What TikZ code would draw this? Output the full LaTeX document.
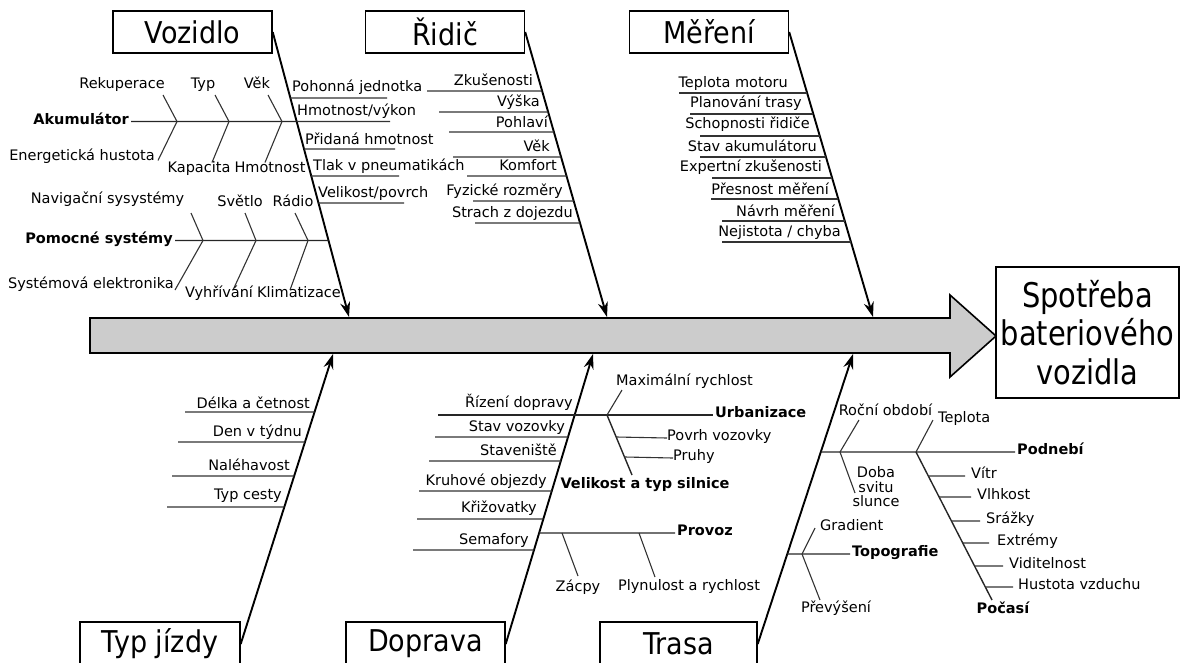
\documentclass[tikz,border=0pt]{standalone}
\usepackage{fontspec}
\setmainfont{DejaVu Sans}
\newfontfamily\boxfont[FakeStretch=0.9]{DejaVu Sans}
\newfontfamily\resfont[FakeStretch=0.85]{DejaVu Sans}
\usetikzlibrary{arrows.meta}
\newcommand\lblfont{\fontsize{14.5}{16.5}\selectfont}

\begin{document}
\begin{tikzpicture}[x=1pt,y=-1pt,
  lbl/.style={inner sep=0pt, font=\lblfont},
  hd/.style={inner ysep=0pt, inner xsep=2pt, font=\lblfont\bfseries},
  cat/.style={draw, line width=1.4pt, minimum width=159pt, minimum height=42pt,
              inner sep=0pt, font=\boxfont\fontsize{30}{30}\selectfont},
  bone/.style={line width=1.9pt, -{Stealth[length=15pt,width=10pt]}},
  spine/.style={line width=1.4pt, draw=black!85},
  rib/.style={line width=1.1pt, draw=black!80}]
\clip (0,0) rectangle (1180,662);

% main arrow and effect box
\draw[line width=1.6pt, fill=black!20]
  (90,318) -- (950,318) -- (950,295) -- (996,336) -- (950,377) -- (950,353) -- (90,353) -- cycle;
\node[draw, line width=1.4pt, minimum width=183pt, minimum height=131pt, inner sep=0pt,
      align=center, font=\resfont\fontsize{34}{38.5}\selectfont] (res) at (1087.5,332.5)
  {Spotřeba\\bateriového\\vozidla};

% category boxes
\node[cat] (voz) at (192.5,32) {Vozidlo};
\node[cat] (rid) at (445,32) {Řidič};
\node[cat] (mer) at (709,32) {Měření};
\node[cat, minimum width=160pt, minimum height=44pt] (typ) at (160,644) {Typ jízdy};
\node[cat, minimum width=159pt, minimum height=44pt] (dop) at (425.5,644) {Doprava};
\node[cat, minimum width=157pt, minimum height=44pt] (tra) at (678.5,644) {Trasa};

% bone tips on the main arrow
\coordinate (vtip) at (349,317);
\coordinate (rtip) at (607,317);
\coordinate (mtip) at (873,317);
\coordinate (ttip) at (333,354);
\coordinate (dtip) at (593,354);
\coordinate (stip) at (853,354);

\draw[bone] (voz.east) -- (vtip);
\draw[bone] (rid.east) -- (rtip);
\draw[bone] (mer.east) -- (mtip);
\draw[bone] (typ.east) -- (ttip);
\draw[bone] (dop.east) -- (dtip);
\draw[bone] (tra.east) -- (stip);

% ---------------- Vozidlo ----------------
\node[hd, anchor=mid east] (akum) at (131,121.5) {Akumulátor};
\draw[spine] (akum.mid east) -- (intersection of voz.east--vtip and 0,121.5--1,121.5);
\coordinate (aj1) at (177,121.5);
\coordinate (aj2) at (229,121.5);
\coordinate (aj3) at (282,121.5);
\draw[rib] (aj1) -- ++(-14,-26.5);
\draw[rib] (aj2) -- ++(-14,-26.5);
\draw[rib] (aj3) -- ++(-14,-26.5);
\draw[rib] (aj1) -- ++(-19,39);
\draw[rib] (aj2) -- ++(-17,41);
\draw[rib] (aj3) -- ++(-17,41);
\node[lbl, anchor=mid] (rek) at (122,86) {Rekuperace};
\node[lbl, anchor=mid] (typa) at (203,86) {Typ};
\node[lbl, anchor=mid] (veka) at (257,86) {Věk};
\node[lbl, anchor=mid east] (enh) at (155,158) {Energetická hustota};
\node[lbl, anchor=mid] (kap) at (199,170) {Kapacita};
\node[lbl, anchor=mid] (hmo) at (270,170) {Hmotnost};

\node[hd, anchor=mid east] (pom) at (175,240.5) {Pomocné systémy};
\draw[spine] (pom.mid east) -- (intersection of voz.east--vtip and 0,240.5--1,240.5);
\draw[rib] (203,240.5) -- (191,213);
\draw[rib] (256,240.5) -- (245,213);
\draw[rib] (308,240.5) -- (295,213);
\draw[rib] (203,240.5) -- (175,290);
\draw[rib] (256,240.5) -- (233,290);
\draw[rib] (308,240.5) -- (290,290);
\node[lbl, anchor=mid] (nav) at (107.5,201) {Navigační sysystémy};
\node[lbl, anchor=mid] (svt) at (240,204) {Světlo};
\node[lbl, anchor=mid] (rad) at (293,204) {Rádio};
\node[lbl, anchor=mid east] (sel) at (174,286) {Systémová elektronika};
\node[lbl, anchor=mid] (vyh) at (219,295) {Vyhřívání};
\node[lbl, anchor=mid] (kli) at (299,295) {Klimatizace};

\foreach \uy/\ex/\tx/\ty/\txt [count=\i] in
  {98/387/292/89/{Pohonná jednotka},
   121.5/390/297/113/{Hmotnost/výkon},
   149/395/305/142/{Přidaná hmotnost},
   176/399/313/168/{Tlak v pneumatikách},
   203/404/318/195/{Velikost/povrch}} {
  \node[lbl, anchor=mid west] (vr\i) at (\tx,\ty) {\txt};
  \draw[rib] (intersection of voz.east--vtip and 0,\uy--1,\uy) -- (\ex,\uy);
}

% ---------------- Řidič ----------------
\foreach \uy/\sx/\tx/\ty/\txt [count=\i] in
  {91/427/533/83/{Zkušenosti},
   112/439/540/104/{Výška},
   132/449/548/125/{Pohlaví},
   157/453/550/149/{Věk},
   176/467/557/168/{Komfort},
   201/473/563/193/{Fyzické rozměry},
   223/475/573/215/{Strach z dojezdu}} {
  \node[lbl, anchor=mid east] (rl\i) at (\tx,\ty) {\txt};
  \draw[rib] (\sx,\uy) -- (intersection of rid.east--rtip and 0,\uy--1,\uy);
}

% ---------------- Měření ----------------
\foreach \uy/\sx/\tx/\ty/\txt [count=\i] in
  {93/679/788/85/{Teplota motoru},
   114/690/802/105/{Planování trasy},
   136/700/810/126/{Schopnosti řidiče},
   157/700/817/149/{Stav akumulátoru},
   178/712/822/169/{Expertní zkušenosti},
   199/711/829/192/{Přesnost měření},
   221/722/835/214/{Návrh měření},
   242/722/841/234/{Nejistota / chyba}} {
  \node[lbl, anchor=mid east] (ml\i) at (\tx,\ty) {\txt};
  \draw[rib] (\sx,\uy) -- (intersection of mer.east--mtip and 0,\uy--1,\uy);
}

% ---------------- Typ jízdy ----------------
\foreach \uy/\sx/\tx/\ty/\txt [count=\i] in
  {412/185/310/406/{Délka a četnost},
   442/178/302/434/{Den v týdnu},
   476/172/290/468/{Naléhavost},
   507/167/282/497/{Typ cesty}} {
  \node[lbl, anchor=mid east] (tl\i) at (\tx,\ty) {\txt};
  \draw[rib] (\sx,\uy) -- (intersection of typ.east--ttip and 0,\uy--1,\uy);
}

% ---------------- Doprava ----------------
\foreach \uy/\sx/\tx/\ty/\txt [count=\i] in
  {437/435/565/429/{Stav vozovky},
   461/429/557/453/{Staveniště},
   491/419/547/483/{Kruhové objezdy},
   519/417/537/510/{Křižovatky},
   550/413/529/542/{Semafory}} {
  \node[lbl, anchor=mid east] (dl\i) at (\tx,\ty) {\txt};
  \draw[rib] (\sx,\uy) -- (intersection of dop.east--dtip and 0,\uy--1,\uy);
}
\node[lbl, anchor=mid east] (rizd) at (573,405) {Řízení dopravy};
\node[hd, anchor=mid west] (urb) at (713,415) {Urbanizace};
\draw[spine] (438,415) -- (urb.mid west);
\coordinate (uj) at (607,415);
\draw[rib] (uj) -- (622,390);
\node[lbl, anchor=mid] (maxr) at (684.5,383) {Maximální rychlost};
\node[hd, anchor=mid] (vel) at (645,486) {Velikost a typ silnice};
\coordinate (velend) at (632,475);
\draw[spine] (uj) -- (velend);
\node[lbl, anchor=mid west] (povr) at (667,438) {Povrh vozovky};
\node[lbl, anchor=mid west] (pruh) at (673,458) {Pruhy};
\draw[rib] (intersection of uj--velend and 0,437--1,437) -- (povr.mid west);
\draw[rib] (intersection of uj--velend and 0,457--1,457) -- (pruh.mid west);

\node[hd, anchor=mid west] (prov) at (675,533) {Provoz};
\draw[spine] (intersection of dop.east--dtip and 0,533--1,533) -- (prov.mid west);
\draw[rib] (562,533) -- (578,576);
\draw[rib] (639,533) -- (655,577);
\node[lbl, anchor=mid] (zac) at (578,589) {Zácpy};
\node[lbl, anchor=mid] (plyn) at (689,588) {Plynulost a rychlost};

% ---------------- Trasa ----------------
\node[hd, anchor=mid west] (podn) at (1015,452) {Podnebí};
\draw[spine] (intersection of tra.east--stip and 0,452--1,452) -- (podn.mid west);
\draw[rib] (840,452) -- (859,420);
\draw[rib] (840,452) -- (855,493);
\node[lbl, anchor=mid] (rocn) at (885.5,413) {Roční období};
\node[lbl, align=center, font=\fontsize{14.5}{14.5}\selectfont] (doba) at (876,487) {Doba\\svitu\\slunce};
\draw[rib] (916,452) -- (933,420);
\node[lbl, anchor=mid west] (tepl) at (938,420) {Teplota};
\coordinate (pj) at (916,452);
\coordinate (pend) at (992,600);
\draw[spine] (pj) -- (pend);
\node[hd, anchor=mid] (poc) at (1003,611) {Počasí};
\foreach \uy/\ex/\tx/\txt [count=\i] in
  {476/965/971/{Vítr},
   497/971/977/{Vlhkost},
   521/980/986/{Srážky},
   543/989/997/{Extrémy},
   566/1003/1009/{Viditelnost},
   587/1013/1018/{Hustota vzduchu}} {
  \node[lbl, anchor=mid west] (pl\i) at (\tx,\uy) {\txt};
  \draw[rib] (intersection of pj--pend and 0,\uy--1,\uy) -- (\ex,\uy);
}

\node[hd, anchor=mid west] (topo) at (850,554) {Topografie};
\draw[spine] (intersection of tra.east--stip and 0,554--1,554) -- (topo.mid west);
\draw[rib] (802,554) -- (815,528);
\draw[rib] (802,554) -- (820,600);
\node[lbl, anchor=mid west] (grad) at (820,528) {Gradient};
\node[lbl, anchor=mid] (prev) at (836,610) {Převýšení};
\end{tikzpicture}
\end{document}
